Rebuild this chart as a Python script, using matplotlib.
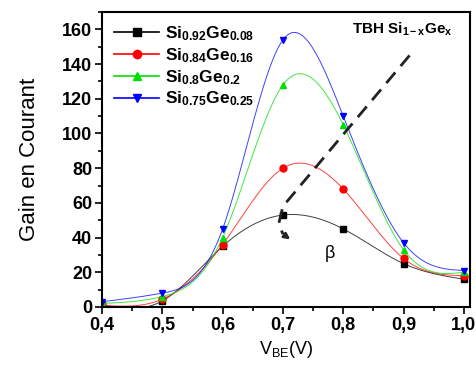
import matplotlib
matplotlib.use('Agg')
import matplotlib.pyplot as plt
from matplotlib.ticker import MultipleLocator, FuncFormatter
import numpy as np

plt.rcParams['font.family'] = ['Liberation Sans', 'DejaVu Sans']
plt.rcParams['mathtext.fontset'] = 'custom'
plt.rcParams['mathtext.rm'] = 'Liberation Sans'
plt.rcParams['mathtext.bf'] = 'Liberation Sans:bold'
plt.rcParams['mathtext.it'] = 'Liberation Sans:italic'

# data
vbe = [0.4, 0.5, 0.6, 0.7, 0.8, 0.9, 1.0]
gain_008 = [1, 3.5, 35, 53, 45, 25, 16]
gain_016 = [1, 4.5, 36, 80, 68, 28, 18]
gain_020 = [2, 6, 40, 128, 105, 33, 20]
gain_025 = [3, 8, 45, 154, 110, 37, 21]

labels = [r'$\mathbf{Si_{0.92}Ge_{0.08}}$', r'$\mathbf{Si_{0.84}Ge_{0.16}}$',
          r'$\mathbf{Si_{0.8}Ge_{0.2}}$', r'$\mathbf{Si_{0.75}Ge_{0.25}}$']
colors = ['black', 'red', '#00e000', 'blue']
markers = ['s', 'o', '^', 'v']

# beta arrow path (annotation)
arrow_x = [0.91, 0.70, 0.693, 0.70, 0.716]
arrow_y = [145, 58, 48, 42, 38]


def natural_spline(x, y, n=300):
    x = np.asarray(x, float)
    y = np.asarray(y, float)
    k = len(x)
    h = np.diff(x)
    A = np.zeros((k, k))
    b = np.zeros(k)
    A[0, 0] = A[-1, -1] = 1
    for i in range(1, k - 1):
        A[i, i - 1] = h[i - 1]
        A[i, i] = 2 * (h[i - 1] + h[i])
        A[i, i + 1] = h[i]
        b[i] = 3 * ((y[i + 1] - y[i]) / h[i] - (y[i] - y[i - 1]) / h[i - 1])
    c = np.linalg.solve(A, b)
    xs = np.linspace(x[0], x[-1], n)
    ys = np.empty_like(xs)
    for j, t in enumerate(xs):
        i = min(np.searchsorted(x, t, side='right') - 1, k - 2)
        bi = (y[i + 1] - y[i]) / h[i] - h[i] * (2 * c[i] + c[i + 1]) / 3
        di = (c[i + 1] - c[i]) / (3 * h[i])
        dx = t - x[i]
        ys[j] = y[i] + bi * dx + c[i] * dx ** 2 + di * dx ** 3
    return xs, ys


fig = plt.figure(figsize=(4.77, 3.65), dpi=100)
ax = fig.add_axes([0.214, 0.159, 0.771, 0.808])

for g, lab, col, m in zip([gain_008, gain_016, gain_020, gain_025], labels, colors, markers):
    xs, ys = natural_spline(vbe, g)
    ax.plot(xs, ys, color=col, lw=0.7, alpha=0.75)
    ax.plot(vbe, g, linestyle='none', marker=m, color=col, ms=5)
    ax.plot([], [], color=col, marker=m, ms=6, lw=1.2, label=lab)

ax.plot(arrow_x[:-1], arrow_y[:-1], color='#222222', lw=2, dashes=(5, 3))
ax.annotate('', xy=(arrow_x[-1], arrow_y[-1]), xytext=(arrow_x[-2], arrow_y[-2]),
            arrowprops=dict(arrowstyle='-|>', color='#222222', lw=2, mutation_scale=8))
ax.text(0.778, 31, '\u03b2', fontsize=13, ha='center', va='center')
ax.text(0.815, 160, r'$\mathbf{TBH\ Si_{1-x}Ge_x}$', fontsize=11, va='center')

ax.set_xlim(0.4, 1.01)
ax.set_ylim(0, 170)
ax.xaxis.set_major_locator(MultipleLocator(0.1))
ax.xaxis.set_minor_locator(MultipleLocator(0.05))
ax.yaxis.set_major_locator(MultipleLocator(20))
ax.yaxis.set_minor_locator(MultipleLocator(10))
ax.xaxis.set_major_formatter(FuncFormatter(lambda v, p: f'{v:.1f}'.replace('.', ',')))
ax.tick_params(which='major', direction='out', length=5, width=1.2, labelsize=13, pad=2)
ax.tick_params(which='minor', direction='out', length=3, width=1.2)
for lbl in ax.get_xticklabels() + ax.get_yticklabels():
    lbl.set_fontweight('bold')
for s in ax.spines.values():
    s.set_linewidth(1.5)

ax.set_xlabel(r'$\mathrm{V_{BE}(V)}$', fontsize=13)
ax.set_ylabel('Gain en Courant', fontsize=16)
ax.yaxis.set_label_coords(-0.17, 0.5)

ax.legend(loc='upper left', frameon=False, fontsize=12.5, handlelength=2.6,
          labelspacing=0.18, borderaxespad=0.3, handletextpad=0.3)

plt.savefig('out.png', dpi=100)
